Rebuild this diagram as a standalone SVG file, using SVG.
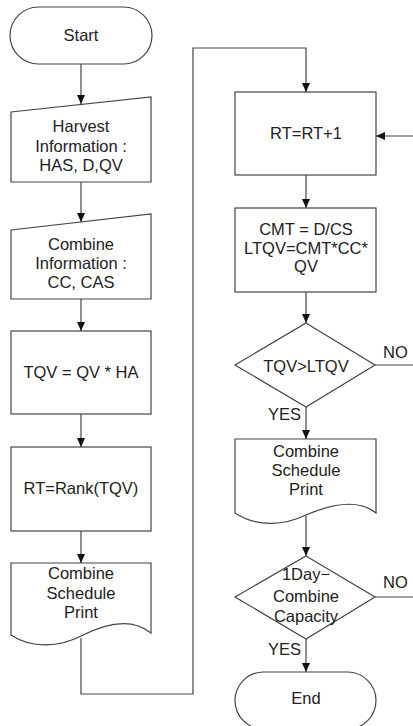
<svg xmlns="http://www.w3.org/2000/svg" width="413" height="726" viewBox="0 0 413 726">
<style>
.s{fill:#fff;stroke:#444;stroke-width:1.2}
.c{fill:none;stroke:#444;stroke-width:1.2}
text{font-family:"Liberation Sans",Arial,sans-serif;font-size:16.5px;fill:#222;text-anchor:middle}
.l{text-anchor:start}
</style>
<defs>
<marker id="ah" markerWidth="10" markerHeight="10" refX="9" refY="5" orient="auto" markerUnits="userSpaceOnUse">
<path d="M0,1 L9,5 L0,9 Z" fill="#111"/>
</marker>
</defs>
<rect width="413" height="726" fill="#fff"/>
<g id="connectors">
<line class="c" x1="81" y1="64" x2="81" y2="104" marker-end="url(#ah)"/>
<line class="c" x1="81" y1="182" x2="81" y2="222" marker-end="url(#ah)"/>
<line class="c" x1="81" y1="299" x2="81" y2="331" marker-end="url(#ah)"/>
<line class="c" x1="81" y1="414" x2="81" y2="447" marker-end="url(#ah)"/>
<line class="c" x1="81" y1="531" x2="81" y2="563" marker-end="url(#ah)"/>
<polyline class="c" points="81,638 81,694 193,694 193,48 306,48 306,92" marker-end="url(#ah)"/>
<line class="c" x1="306" y1="175" x2="306" y2="208" marker-end="url(#ah)"/>
<line class="c" x1="306" y1="292" x2="306" y2="323" marker-end="url(#ah)"/>
<line class="c" x1="306" y1="407" x2="306" y2="439" marker-end="url(#ah)"/>
<line class="c" x1="306" y1="516" x2="306" y2="556" marker-end="url(#ah)"/>
<line class="c" x1="306" y1="639" x2="306" y2="672" marker-end="url(#ah)"/>
<line class="c" x1="413" y1="136" x2="376" y2="136" marker-end="url(#ah)"/>
<line class="c" x1="375" y1="365" x2="413" y2="365"/>
<line class="c" x1="375" y1="597" x2="413" y2="597"/>
<text class="l" x="383" y="358">NO</text>
<text class="l" x="268" y="420">YES</text>
<text class="l" x="383" y="588">NO</text>
<text class="l" x="268" y="655">YES</text>
</g>
<g id="start">
<rect class="s" x="10" y="7" width="142" height="57" rx="28.5"/>
<text x="81" y="41">Start</text>
</g>
<g id="harvest">
<polygon class="s" points="11,112 151,97 151,182 11,182"/>
<text x="81" y="132">Harvest</text>
<text x="81" y="152">Information :</text>
<text x="81" y="171">HAS, D,QV</text>
</g>
<g id="combineinfo">
<polygon class="s" points="11,230 151,214 151,299 11,299"/>
<text x="81" y="250">Combine</text>
<text x="81" y="269">Information :</text>
<text x="81" y="288">CC, CAS</text>
</g>
<g id="tqv">
<rect class="s" x="11" y="331" width="140" height="83"/>
<text x="81" y="378">TQV = QV * HA</text>
</g>
<g id="rank">
<rect class="s" x="11" y="447" width="140" height="84"/>
<text x="81" y="494">RT=Rank(TQV)</text>
</g>
<g id="print1">
<path class="s" d="M11,563 H151 V633 C135,620 112,620 81,636 C60,647 32,649 11,635 Z"/>
<text x="81" y="579">Combine</text>
<text x="81" y="599">Schedule</text>
<text x="81" y="618">Print</text>
</g>
<g id="rtinc">
<rect class="s" x="235" y="92" width="141" height="83"/>
<text x="306" y="139">RT=RT+1</text>
</g>
<g id="cmt">
<rect class="s" x="235" y="208" width="141" height="84"/>
<text x="306" y="235">CMT = D/CS</text>
<text x="306" y="254">LTQV=CMT*CC*</text>
<text x="306" y="272">QV</text>
</g>
<g id="decision1">
<polygon class="s" points="306,323 375,365 306,407 235,365"/>
<text x="306" y="372">TQV&gt;LTQV</text>
</g>
<g id="print2">
<path class="s" d="M235,439 H376 V513 C360,500 336,502 306,515 C285,525 258,528 235,513 Z"/>
<text x="306" y="457">Combine</text>
<text x="306" y="476">Schedule</text>
<text x="306" y="495">Print</text>
</g>
<g id="decision2">
<polygon class="s" points="306,556 375,597 306,639 235,597"/>
<text x="306" y="580">1Day−</text>
<text x="306" y="602">Combine</text>
<text x="306" y="622">Capacity</text>
</g>
<g id="end">
<rect class="s" x="235" y="672" width="141" height="57" rx="28.5"/>
<text x="306" y="704">End</text>
</g>
</svg>
